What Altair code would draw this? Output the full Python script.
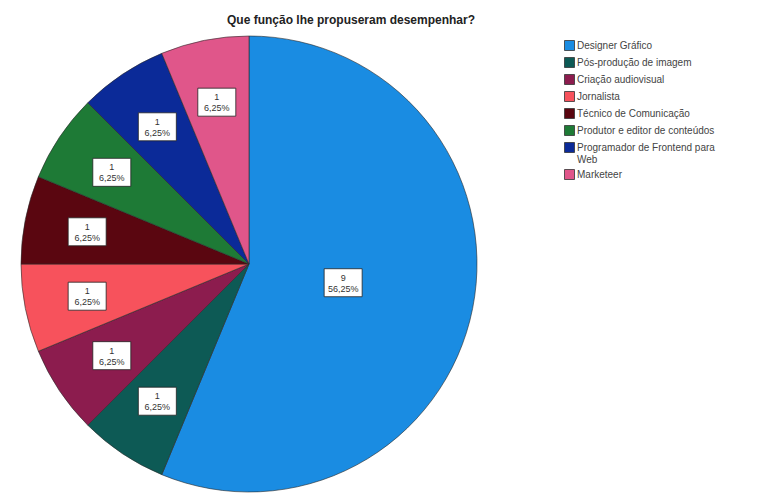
import altair as alt
import pandas as pd

title_text = "Que função lhe propuseram desempenhar?"
categories = [
    "Designer Gráfico",
    "Pós-produção de imagem",
    "Criação audiovisual",
    "Jornalista",
    "Técnico de Comunicação",
    "Produtor e editor de conteúdos",
    "Programador de Frontend para Web",
    "Marketeer",
]
counts = [9, 1, 1, 1, 1, 1, 1, 1]
colors = ["#1a8ce2", "#0d5a55", "#8c1c4e", "#f7525c", "#5a0610", "#1e7a36", "#0b2a98", "#e0568a"]

CX, CY, R = 249, 264, 228

df = pd.DataFrame({"cat": categories, "count": counts, "idx": list(range(len(categories)))})

base = alt.Chart(df).transform_joinaggregate(
    total="sum(count)"
).transform_window(
    cum="sum(count)", sort=[alt.SortField("idx")], frame=[None, 0]
).transform_calculate(
    pct="datum.count / datum.total * 100",
    mid="(datum.cum - datum.count / 2) / datum.total * 2 * PI",
    lr="datum.count / datum.total > 0.5 ? 96 : 165",
).transform_calculate(
    lx=f"{CX} + datum.lr * sin(datum.mid)",
    ly=f"{CY} - datum.lr * cos(datum.mid)",
    l1="'' + datum.count",
    l2="replace(format(datum.pct, '.2f'), '.', ',') + '%'",
)

color_scale = alt.Scale(domain=categories, range=colors)

arcs = base.mark_arc(outerRadius=R, stroke="#2a2a2a", strokeWidth=0.6).encode(
    theta=alt.Theta("count:Q", stack=True),
    order=alt.Order("idx:Q"),
    x=alt.value(CX),
    y=alt.value(CY),
    color=alt.Color(
        "cat:N",
        scale=color_scale,
        legend=alt.Legend(
            title=None,
            orient="none",
            legendX=564,
            legendY=40,
            symbolType="square",
            symbolSize=100,
            symbolStrokeColor="#333333",
            symbolStrokeWidth=0.8,
            labelFont="Liberation Sans",
            labelFontSize=10,
            labelColor="#444444",
            labelLimit=200,
            labelOffset=2,
            rowPadding=2,
            labelExpr="datum.label == 'Programador de Frontend para Web' ? ['Programador de Frontend para', 'Web'] : datum.label",
        ),
    ),
)

boxes = base.mark_rect(fill="white", stroke="#222222", strokeWidth=0.8).encode(
    x=alt.X("x1:Q", scale=None),
    x2="x2:Q",
    y=alt.Y("y1:Q", scale=None),
    y2="y2:Q",
).transform_calculate(
    x1="datum.lx - 19", x2="datum.lx + 19", y1="datum.ly - 14", y2="datum.ly + 14"
)

t1 = base.mark_text(font="Liberation Sans", fontSize=9, color="#333333").encode(
    x=alt.X("lx:Q", scale=None),
    y=alt.Y("y1:Q", scale=None),
    text="l1:N",
).transform_calculate(y1="datum.ly - 5")

t2 = base.mark_text(font="Liberation Sans", fontSize=9, color="#333333").encode(
    x=alt.X("lx:Q", scale=None),
    y=alt.Y("y2:Q", scale=None),
    text="l2:N",
).transform_calculate(y2="datum.ly + 6")

title = alt.Chart(pd.DataFrame({"t": [title_text]})).mark_text(
    font="Liberation Sans", fontSize=12, fontWeight="bold", color="#222222"
).encode(x=alt.value(351), y=alt.value(20), text="t:N")

chart = alt.layer(arcs, boxes, t1, t2, title).properties(
    width=764, height=493, autosize=alt.AutoSizeParams(type="none"), padding=0
).configure_view(stroke=None)

chart.save("out.html", embed_options={"renderer": "svg", "actions": False})
